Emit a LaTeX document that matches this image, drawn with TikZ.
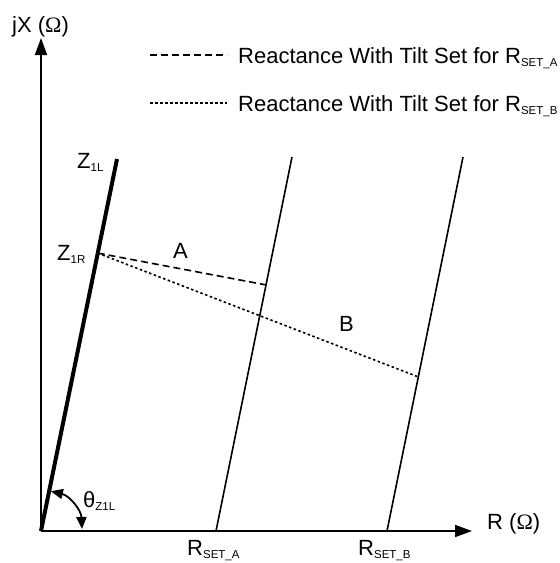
\documentclass[tikz,border=0pt]{standalone}
\usepackage{fontspec}
\setmainfont{Liberation Sans}
\newfontfamily\omegafont{Liberation Serif}
\usetikzlibrary{arrows.meta,calc}
\newcommand\lowsub[1]{\raisebox{-3.5pt}{\fontsize{11.5}{11.5}\selectfont #1}}
\newcommand\ohmsym{{\omegafont Ω}}
\begin{document}
\begin{tikzpicture}[x=1pt,y=-1pt,font=\fontsize{22}{26}\selectfont,
  axis/.style={line width=1.8pt,-{Triangle[length=17pt,width=12pt]}},
  zline/.style={line width=4pt},
  rline/.style={line width=1.6pt},
  tiltA/.style={line width=1.6pt,dash pattern=on 7pt off 4pt},
  tiltB/.style={line width=1.6pt,dash pattern=on 2.5pt off 2.5pt},
  anglearrow/.style={line width=1.8pt,{Triangle[length=12pt,width=10pt]}-{Triangle[length=12pt,width=10pt]}},
  lbl/.style={inner sep=0pt,anchor=base west}]
\useasboundingbox (0,0) rectangle (560,563);
% axes
\coordinate (O) at (41,531);
\coordinate (Ytip) at (41,38);
\coordinate (Xtip) at (472,531);
\draw[axis] (O) -- (Ytip);
\draw[axis] (O) -- (Xtip);
\node[lbl] (jx) at (12,32) {jX (\ohmsym)};
\node[lbl] (rax) at (487,529) {R (\ohmsym)};
% Z1 line
\coordinate (Ztop) at (117,159);
\draw[zline] (O) -- (Ztop);
\coordinate (Z1R) at ($(O)!0.747!(Ztop)$);
\node[lbl] (z1l) at (77,168) {Z\lowsub{1L}};
\node[lbl] (z1r) at (57,260) {Z\lowsub{1R}};
% R set lines
\coordinate (RAb) at (216,531);
\coordinate (RAt) at (292,157);
\coordinate (RBb) at (387,531);
\coordinate (RBt) at (463,157);
\draw[rline] (RAb) -- (RAt);
\draw[rline] (RBb) -- (RBt);
\node[lbl] (rsa) at (187,555) {R\lowsub{SET\_A}};
\node[lbl] (rsb) at (358,555) {R\lowsub{SET\_B}};
% tilted reactance lines
\coordinate (PA) at ($(RAb)!0.658!(RAt)$);
\coordinate (PB) at ($(RBb)!0.412!(RBt)$);
\draw[tiltA] (Z1R) -- (PA);
\draw[tiltB] (Z1R) -- (PB);
\node[lbl] (la) at (173,258) {A};
\node[lbl] (lb) at (339,331) {B};
% angle
\coordinate (Atop) at (50.9,491.2);
\coordinate (Abot) at (82,529);
\draw[anglearrow] (Atop) to[bend left=37] (Abot);
\node[lbl] (th) at (83,507) {θ\lowsub{Z1L}};
% legend
\coordinate (LA1) at (150,55);
\coordinate (LA2) at (227,55);
\coordinate (LB1) at (150,103);
\coordinate (LB2) at (227,103);
\draw[tiltA] (LA1) -- (LA2);
\draw[tiltB] (LB1) -- (LB2);
\node[lbl] (legA) at (238,63) {Reactance With Tilt Set for R\lowsub{SET\_A}};
\node[lbl] (legB) at (238,111) {Reactance With Tilt Set for R\lowsub{SET\_B}};
\end{tikzpicture}
\end{document}
